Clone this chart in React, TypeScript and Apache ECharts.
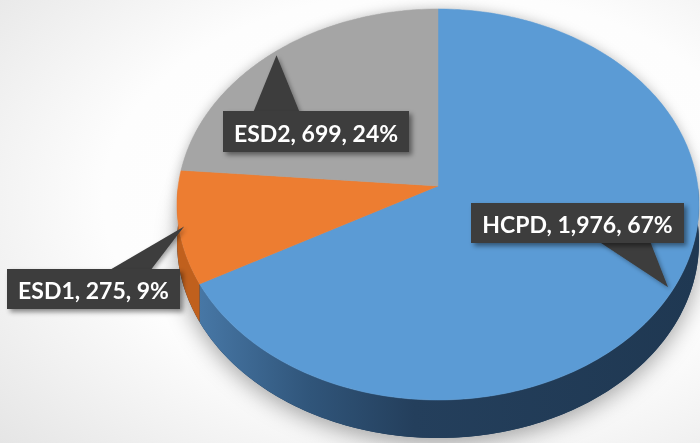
import React, { useEffect, useRef } from "react";
import * as echarts from "echarts";

// ---- data ----
const categories = ["HCPD", "ESD1", "ESD2"];
const values = [1976, 275, 699];
const topColors = ["#5b9bd5", "#ed7d31", "#a5a5a5"];

// ---- layout / projection (styling, not data) ----
const CX = 438;
const CY = 186;
const RX = 259.8;
const RY = 176.15;
const PERSP = 0.0946;
const DEPTH = 38;
const APEX_R = 0.98;
const labelBoxes = [
  { x: 471, y: 203, w: 213, h: 40, b1: 598, b2: 650 },
  { x: 7, y: 269, w: 173, h: 40, b1: 108, b2: 150 },
  { x: 223, y: 111, w: 186, h: 41, b1: 253, b2: 300 },
];

function proj(theta: number, r = 1): number[] {
  const t = (theta * Math.PI) / 180;
  const s = Math.sin(t) * r;
  const c = Math.cos(t) * r;
  const w = 1 + PERSP * c;
  return [CX + (RX * s) / w, (CY - RY * c) / w];
}

function arc(a: number, b: number, dy = 0): number[][] {
  const pts: number[][] = [];
  const n = Math.max(2, Math.ceil(Math.abs(b - a)));
  for (let i = 0; i <= n; i++) {
    const p = proj(a + ((b - a) * i) / n);
    pts.push([p[0], p[1] + dy]);
  }
  return pts;
}

export default function App() {
  const ref = useRef<HTMLDivElement>(null);
  useEffect(() => {
    if (!ref.current) return;
    const chart = echarts.init(ref.current, null, { renderer: "svg" });
    const total = values.reduce((a, b) => a + b, 0);
    const starts: number[] = [];
    const ends: number[] = [];
    let acc = 0;
    values.forEach((v) => {
      starts.push((acc / total) * 360);
      acc += v;
      ends.push((acc / total) * 360);
    });
    const data = values.map((v, i) => ({ name: categories[i], value: v }));

    const blueSide = {
      type: "linear",
      x: 180,
      y: 0,
      x2: 700,
      y2: 0,
      global: true,
      colorStops: [
        { offset: 0, color: "#4b7dad" },
        { offset: 0.25, color: "#30557a" },
        { offset: 0.45, color: "#243f5c" },
        { offset: 1, color: "#1f3852" },
      ],
    };
    const sideColors: any[] = [blueSide, "#c0601d", "#7c7c7c"];

    const option: any = {
      animation: false,
      backgroundColor: {
        type: "radial",
        x: 0.62,
        y: 0.45,
        r: 1.05,
        colorStops: [
          { offset: 0, color: "#ffffff" },
          { offset: 0.45, color: "#fdfdfd" },
          { offset: 1, color: "#d6d6d6" },
        ],
      },
      series: [
        {
          type: "custom",
          coordinateSystem: "none",
          silent: true,
          z: 1,
          data,
          renderItem: (params: any) => {
            const i = params.dataIndex;
            const children: any[] = [];
            if (i === 0) {
              children.push({
                type: "polygon",
                shape: { points: arc(0, 360, DEPTH) },
                style: {
                  fill: "#1f3852",
                  shadowBlur: 22,
                  shadowColor: "rgba(0,0,0,0.35)",
                  shadowOffsetY: 6,
                },
              });
              children.push({
                type: "polygon",
                shape: { points: arc(0, 360, 0) },
                style: {
                  fill: "#cccccc",
                  shadowBlur: 12,
                  shadowColor: "rgba(0,0,0,0.25)",
                },
              });
            }
            const a = Math.max(starts[i], 90);
            const b = Math.min(ends[i], 270);
            if (a < b) {
              const top = arc(a, b, 0);
              const bottom = arc(a, b, DEPTH).reverse();
              children.push({
                type: "polygon",
                shape: { points: top.concat(bottom) },
                style: { fill: sideColors[i] },
              });
            }
            return { type: "group", children };
          },
        },
        {
          type: "custom",
          coordinateSystem: "none",
          silent: true,
          z: 2,
          data,
          renderItem: (params: any) => {
            const i = params.dataIndex;
            const pts = [[CX, CY]].concat(arc(starts[i], ends[i], 0));
            return {
              type: "polygon",
              shape: { points: pts },
              style: { fill: topColors[i], stroke: topColors[i], lineWidth: 0.5 },
            };
          },
        },
        {
          type: "custom",
          coordinateSystem: "none",
          silent: true,
          z: 3,
          data,
          renderItem: (params: any) => {
            const i = params.dataIndex;
            const box = labelBoxes[i];
            const mid = (starts[i] + ends[i]) / 2;
            const apex = proj(mid, APEX_R);
            const edgeY = apex[1] < box.y ? box.y + 2 : box.y + box.h - 2;
            const pct = Math.round((values[i] / total) * 100);
            const text = `${categories[i]}, ${values[i].toLocaleString("en-US")}, ${pct}%`;
            const fill = "#3d3d3d";
            return {
              type: "group",
              children: [
                {
                  type: "polygon",
                  shape: { points: [[box.b1, edgeY], [box.b2, edgeY], apex] },
                  style: {
                    fill,
                    shadowBlur: 4,
                    shadowOffsetX: 2,
                    shadowOffsetY: 2,
                    shadowColor: "rgba(0,0,0,0.35)",
                  },
                },
                {
                  type: "rect",
                  shape: { x: box.x, y: box.y, width: box.w, height: box.h },
                  style: {
                    fill,
                    shadowBlur: 5,
                    shadowOffsetX: 3,
                    shadowOffsetY: 3,
                    shadowColor: "rgba(0,0,0,0.45)",
                  },
                },
                {
                  type: "text",
                  style: {
                    text,
                    x: box.x + box.w / 2,
                    y: box.y + box.h / 2 + 1,
                    align: "center",
                    verticalAlign: "middle",
                    fill: "#ffffff",
                    fontSize: 23,
                    fontWeight: "bold",
                    fontFamily: "Lato",
                  },
                },
              ],
            };
          },
        },
      ],
    };
    chart.setOption(option);
    return () => chart.dispose();
  }, []);
  return (
    <div
      ref={ref}
      style={{ position: "fixed", left: 0, top: 0, width: 700, height: 443 }}
    />
  );
}
